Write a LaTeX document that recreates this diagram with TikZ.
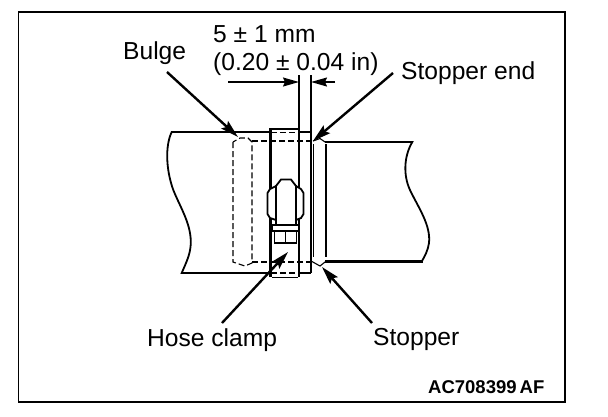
\documentclass[tikz,border=0pt]{standalone}
\usepackage{fontspec}
\setmainfont{Liberation Sans}
\usetikzlibrary{arrows.meta}
\tikzset{
  x=1pt,y=-1pt,
  label text/.style={inner sep=0pt,anchor=base west,font=\fontsize{24.6}{26}\selectfont},
  code text/.style={inner sep=0pt,anchor=base west,font=\fontsize{18.5}{20}\selectfont\bfseries},
  frame line/.style={line width=1.6pt},
  heavy/.style={line width=2.4pt},
  medium/.style={line width=1.8pt},
  thin part/.style={line width=1.1pt},
  hidden/.style={line width=1.1pt,dash pattern=on 6pt off 3pt},
  hiddenheavy/.style={line width=1.8pt,dash pattern=on 6pt off 3pt},
  leader/.style={line width=2.4pt,-{Stealth[length=18pt,width=10pt,inset=3pt]}},
  dimarrow/.style={line width=1.4pt,-{Stealth[length=16pt,width=9pt,inset=2pt]}}
}
\begin{document}
\begin{tikzpicture}
\useasboundingbox (0,0) rectangle (608,416);
\fill[white] (0,0) rectangle (608,416);
\draw[frame line] (18.5,12) rectangle (565,402);
% left tube
\draw[medium] (270,132) -- (171.7,132) .. controls (165,146) and (166,170) .. (173.3,190) .. controls (180,207) and (192,225) .. (190.7,245) .. controls (190,255) and (186,263) .. (181.7,273) -- (270,273);
\draw[medium] (299,132) -- (311,132);
\draw[medium] (299,273) -- (311,273);
\draw[hiddenheavy] (271,132.5) -- (299,132.5);
\draw[hiddenheavy] (271,273) -- (299,273);
\draw[heavy] (222,273) -- (270,273);
% right tube
\draw[medium] (325,142) -- (412.3,142) .. controls (404,156) and (403,175) .. (410,190) .. controls (418,207) and (431,225) .. (429,243) .. controls (428,250) and (425,256) .. (421.7,261.5);
\draw[heavy] (325,261.5) -- (423,261.5);
% stopper bead
\draw[thin part] (313,141) -- (320,138.5) -- (325,142);
\draw[thin part] (311,261) -- (320,266) -- (325,262);
\draw[medium] (313.5,144) -- (313.5,257);
\draw[thin part] (326,144) -- (326,257);
% hidden bulge and tube
\draw[hidden] (233,142) -- (233,262) -- (236,263) -- (245,266) -- (252,263) -- (252,142) -- (248,138) -- (240,138) -- cycle;
\draw[hidden] (252,141) -- (313,141);
\draw[hidden] (252,262) -- (311,262);
% clamp
\draw[heavy] (270.5,277) -- (270.5,129) -- (299,129);
\draw[medium] (272,277.5) -- (298,277.5);
\draw[medium] (299,75) -- (299,277);
\draw[medium] (311,75) -- (311,273);
% screw
\draw[medium,fill=white] (276,186) -- (270,189) -- (267.5,193) -- (267.5,214) -- (270,218) -- (276,220) -- (296,220) -- (301,218) -- (303.5,214) -- (303.5,193) -- (301,189) -- (296,186) -- cycle;
\draw[medium,fill=white] (276,225) -- (276,186) -- (281,179.5) -- (291,179.5) -- (296,186) -- (296,225) -- cycle;
\draw[medium,fill=white] (272,225) rectangle (299,231);
\draw[medium,fill=white] (274.5,231) rectangle (296.5,243);
\draw[thin part] (285.5,231) -- (285.5,243);
% labels
\node[label text] (bulge) at (123,59) {Bulge};
\node[label text] (dima) at (213,42) {5 ± 1 mm};
\node[label text] (dimb) at (213,70) {(0.20 ± 0.04 in)};
\node[label text] (stopend) at (401,79) {Stopper end};
\node[label text] (hose) at (147,346) {Hose clamp};
\node[label text] (stopper) at (373,345) {Stopper};
\node[code text] (code) at (428,393) {AC708399\,AF};
% named ends
\coordinate (bulgefrom) at (167,72);
\coordinate (bulgeto) at (238,137);
\coordinate (endfrom) at (393,73);
\coordinate (endto) at (313,141);
\coordinate (hosefrom) at (222,323);
\coordinate (hoseto) at (288,252);
\coordinate (stopfrom) at (372,323);
\coordinate (stopto) at (322,267);
\coordinate (dl) at (228,82);
\coordinate (dlto) at (299,82);
\coordinate (dr) at (335,82);
\coordinate (drto) at (311,82);
\draw[leader] (bulgefrom) -- (bulgeto);
\draw[leader] (endfrom) -- (endto);
\draw[leader] (hosefrom) -- (hoseto);
\draw[leader] (stopfrom) -- (stopto);
\draw[dimarrow] (dl) -- (dlto);
\draw[dimarrow] (dr) -- (drto);
\end{tikzpicture}
\end{document}
